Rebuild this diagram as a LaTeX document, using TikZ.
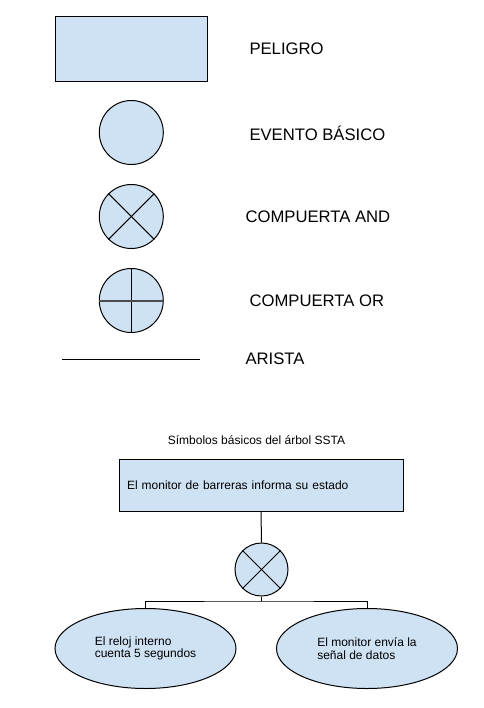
\documentclass[tikz,border=0pt]{standalone}
\usepackage{fontspec}
\setmainfont{Liberation Sans}
\usetikzlibrary{positioning, calc, shapes.geometric}
\definecolor{celeste}{RGB}{207,226,243}

\begin{document}
\begin{tikzpicture}[x=0.75pt, y=-0.75pt, line width=0.75pt]
\tikzset{
  blk/.style ={draw, fill=celeste, inner sep=0pt},
  gate/.style={draw, fill=celeste, circle, inner sep=0pt, minimum size=48pt},
  evt/.style ={draw, fill=celeste, ellipse, inner sep=0pt, minimum width=135.75pt, minimum height=60pt, align=left, font=\fontsize{9pt}{9.2pt}\selectfont},
  lbl/.style ={anchor=west, inner sep=0pt, font=\fontsize{12.5pt}{14pt}\selectfont}
}
\useasboundingbox (0,0) rectangle (483,708);

% leyenda : simbolos
\node[blk, minimum width=114pt, minimum height=48.75pt] (peligro) at (131,48.5) {};
\node[gate] (basico) at (131.3,132.5) {};
\node[gate] (and) at (131.3,216.5) {};
\draw (and.north west) -- (and.south east);
\draw (and.north east) -- (and.south west);
\node[gate] (or) at (131.3,300.5) {};
\draw (or.north) -- (or.south);
\draw[line width=1.5pt, gray!60!black] (or.west) -- (or.east);
\coordinate (aristaA) at (62,359);
\coordinate (aristaB) at (200,359);
\draw (aristaA) -- (aristaB);

% leyenda : nombres
\node[lbl] (tPeligro) at (249,49) {PELIGRO};
\node[lbl] (tBasico) at (249,133) {EVENTO BÁSICO};
\node[lbl] (tAnd) at (245,217) {COMPUERTA AND};
\node[lbl] (tOr) at (249,301) {COMPUERTA OR};
\node[lbl] (tArista) at (245,359) {ARISTA};

% titulo
\node[font=\fontsize{9pt}{11pt}\selectfont, inner sep=0pt] (titulo) at (256.5,440) {Símbolos básicos del árbol SSTA};

% arbol
\node[blk, minimum height=39pt, text width=201pt, inner xsep=6pt, align=left, font=\fontsize{9pt}{11pt}\selectfont] (estado) at (261,485) {El monitor de barreras informa su estado};
\node[gate, minimum size=39.75pt] (y) at (261.5,569.5) {};
\draw (y.north west) -- (y.south east);
\draw (y.north east) -- (y.south west);
\draw (estado.south) -- (y.north);

\node[evt] (reloj) at (145.5,648.5) {El reloj interno\\cuenta 5 segundos};
\node[evt] (senal) at (367,648.5) {El monitor envía la\\señal de datos};

\coordinate (split) at (261.5,601);
\draw (y.south) -- (split);
\draw (reloj.north) |- (split) -| (senal.north);

\end{tikzpicture}
\end{document}
